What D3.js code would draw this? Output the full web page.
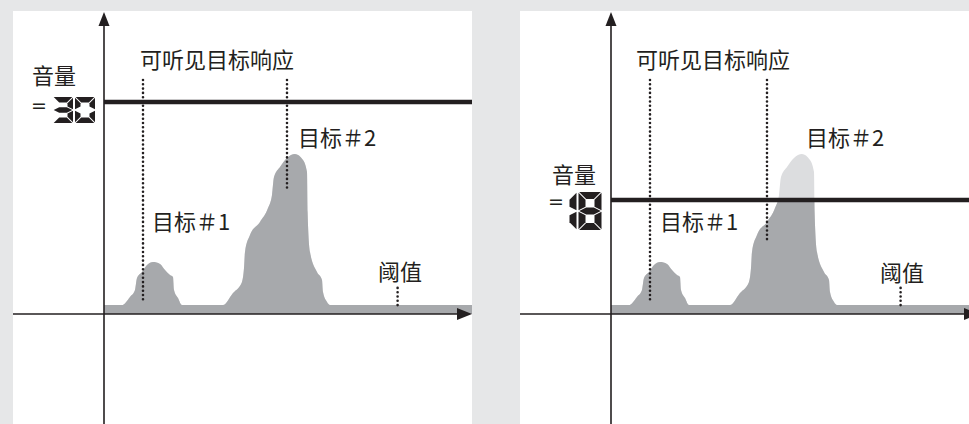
<!DOCTYPE html>
<html>
<head>
<meta charset="utf-8">
<script src="https://cdn.jsdelivr.net/npm/d3@7"></script>
<style>
  body { margin: 0; background: #e6e7e8; }
  svg { display: block; }
  .label { font-family: "Noto Sans CJK SC", sans-serif; font-size: 22px; fill: #231f20; }
  .equals { font-family: "DejaVu Sans", sans-serif; font-size: 19px; fill: #231f20; }
</style>
</head>
<body>
<div id="chart"></div>
<script>
// Data (x: 0..92 along the axis, y: 0..100 response level)
const responseX = [0, 3.5, 4.5, 6.5, 7.75, 8.25, 9.5, 10.75, 12.25, 14, 15.25, 16.5, 17.25, 17.5, 18.5, 19.5,
  20.5, 28.75, 29.75, 32.25, 34.5, 35, 35.25, 36.5, 39, 41, 42, 42.5, 44, 45.75, 47.75, 49.75, 50.75,
  50.9, 51.5, 53.25, 54.5, 54.75, 55.75, 56.5, 57.5, 92]
const responseY = [3, 3, 3, 5.7, 8, 12, 14, 16.3, 17.3, 16.7, 14.7, 13, 12.3, 8, 5.3, 3,
  3, 3, 3, 7, 10.7, 15.3, 20.7, 26.3, 30.7, 35.3, 39.7, 45.7, 49, 52, 53.3, 51.3, 47.3,
  34, 20.7, 14, 11.3, 7.3, 4, 3, 3, 3]
const volumeSetting = ["30", "18"]
const volumeLevel = [70.7, 38]
const audibleMarkX = [[9.75, 45.75], [9.75, 39]]
const audibleMarkBottom = [[4, 41.3], [4, 24]]
const thresholdMarkX = [73.4, 72.4]
const labelText = ["可听见目标响应", "目标＃1", "目标＃2", "阈值"]
const volumeText = "音量"

// Dimensions
const width = 969
const height = 424
const panelX = [13, 520]
const panelW = [459, 449]
const panelTop = 11
const originX = [104, 611]
const originY = 314
const axisTop = 12
const plotWidth = 368
const ink = "#231f20"
const darkGray = "#a7a9ac"
const lightGray = "#dcdddf"

// Annotation layout, in axis units
const labelX = [[9, 12, 48.5, 68.5], [6.25, 12.25, 48.75, 67.25]]
const labelY = [[82, 28, 56, 11.3], [82, 28, 56, 11]]
const markTop = 78
const thresholdMarkY = [8.7, 1.7]

// Volume display layout, in pixels
const volumeLayout = [
  {nameX: 32, nameY: 84, eqX: 31, eqY: 112, digitX: 53, digitY: 97, w: 20, h: 26, t: 5.5},
  {nameX: 552, nameY: 183, eqX: 548, eqY: 208, digitX: 568, digitY: 192, w: 23, h: 38, t: 7}
]

const svg = d3.select("#chart")
  .append("svg")
    .attr("width", width)
    .attr("height", height)

const responseData = responseX.map(function(x, i) { return {x: x, y: responseY[i]} })

const segmentsFor = {
  "0": "abcdef", "1": "bc", "2": "abdeg", "3": "abcdg", "4": "bcfg",
  "5": "acdfg", "6": "acdefg", "7": "abc", "8": "abcdefg", "9": "abcdfg"
}

// seven-segment polygons inside a cell (x, y, w, h), bar thickness t
function segmentPoints(x, y, w, h, t) {
  let g = 0.7
  let m = y + h / 2
  let r = x + w
  let b = y + h
  return {
    a: [[x + g, y], [r - g, y], [r - t - g, y + t], [x + t + g, y + t]],
    d: [[x + t + g, b - t], [r - t - g, b - t], [r - g, b], [x + g, b]],
    g: [[x + g, m], [x + t + g, m - t / 2], [r - t - g, m - t / 2], [r - g, m], [r - t - g, m + t / 2], [x + t + g, m + t / 2]],
    f: [[x, y + g], [x + t, y + t + g], [x + t, m - t / 2 - g], [x, m - g]],
    e: [[x, m + g], [x + t, m + t / 2 + g], [x + t, b - t - g], [x, b - g]],
    b: [[r, y + g], [r - t, y + t + g], [r - t, m - t / 2 - g], [r, m - g]],
    c: [[r, m + g], [r - t, m + t / 2 + g], [r - t, b - t - g], [r, b - g]]
  }
}

function drawDigits(g, str, lay) {
  let x = lay.digitX
  for (let c of str) {
    let w = c === "1" ? lay.t + 1.5 : lay.w
    let segs = segmentPoints(x, lay.digitY, w, lay.h, lay.t)
    g.selectAll(null)
      .data(segmentsFor[c].split(""))
      .enter().append("polygon")
      .attr("points", function(s) { return segs[s].map(function(p) { return p.join(",") }).join(" ") })
      .attr("fill", ink)
    x += w + 2
  }
}

function drawPanel(p) {
  let g = svg.append("g")
  let x0 = originX[p]

  g.append("rect")
    .attr("x", panelX[p])
    .attr("y", panelTop)
    .attr("width", panelW[p])
    .attr("height", height - panelTop)
    .attr("fill", "#ffffff")

  let x = d3.scaleLinear().domain([0, 92]).range([x0, x0 + plotWidth])
  let y = d3.scaleLinear().domain([0, 100]).range([originY, 14])

  let area = d3.area()
    .x(function(d) { return x(d.x) })
    .y0(y(0))
    .y1(function(d) { return y(d.y) })
    .curve(d3.curveMonotoneX)

  let clipId = "below-volume-" + p
  g.append("clipPath")
      .attr("id", clipId)
    .append("rect")
      .attr("x", x0)
      .attr("y", y(volumeLevel[p]))
      .attr("width", plotWidth)
      .attr("height", originY - y(volumeLevel[p]) + 2)

  g.append("path")
    .datum(responseData)
    .attr("d", area)
    .attr("fill", lightGray)

  g.append("path")
    .datum(responseData)
    .attr("d", area)
    .attr("fill", darkGray)
    .attr("clip-path", "url(#" + clipId + ")")

  // dotted markers
  let marks = audibleMarkX[p].map(function(mx, i) { return {x: mx, top: markTop, bottom: audibleMarkBottom[p][i]} })
  marks.push({x: thresholdMarkX[p], top: thresholdMarkY[0], bottom: thresholdMarkY[1]})
  g.selectAll(".mark")
    .data(marks)
    .enter().append("line")
    .attr("class", "mark")
    .attr("x1", function(d) { return x(d.x) })
    .attr("x2", function(d) { return x(d.x) })
    .attr("y1", function(d) { return y(d.top) })
    .attr("y2", function(d) { return y(d.bottom) })
    .attr("stroke", ink)
    .attr("stroke-width", 2.6)
    .attr("stroke-linecap", "round")
    .attr("stroke-dasharray", "0,4.3")

  // volume line
  g.append("line")
    .attr("x1", x0)
    .attr("x2", x0 + plotWidth)
    .attr("y1", y(volumeLevel[p]))
    .attr("y2", y(volumeLevel[p]))
    .attr("stroke", ink)
    .attr("stroke-width", 4.5)

  // axes
  g.append("line")
    .attr("x1", panelX[p])
    .attr("x2", x0 + plotWidth - 10)
    .attr("y1", originY)
    .attr("y2", originY)
    .attr("stroke", ink)
    .attr("stroke-width", 1.6)
  g.append("line")
    .attr("x1", x0)
    .attr("x2", x0)
    .attr("y1", axisTop + 8)
    .attr("y2", height)
    .attr("stroke", ink)
    .attr("stroke-width", 1.6)
  g.append("path")
    .attr("d", "M" + x0 + "," + axisTop + "L" + (x0 + 5.5) + "," + (axisTop + 14) + "L" + (x0 - 5.5) + "," + (axisTop + 14) + "Z")
    .attr("fill", ink)
  let xe = x0 + plotWidth
  g.append("path")
    .attr("d", "M" + xe + "," + originY + "L" + (xe - 15) + "," + (originY - 6) + "L" + (xe - 15) + "," + (originY + 6) + "Z")
    .attr("fill", ink)

  // labels
  g.selectAll(".label")
    .data(labelText)
    .enter().append("text")
    .attr("class", "label")
    .attr("x", function(d, i) { return x(labelX[p][i]) })
    .attr("y", function(d, i) { return y(labelY[p][i]) })
    .text(function(d) { return d })

  // volume display
  let lay = volumeLayout[p]
  g.append("text")
    .attr("class", "label")
    .attr("x", lay.nameX)
    .attr("y", lay.nameY)
    .text(volumeText)
  g.append("text")
    .attr("class", "equals")
    .attr("x", lay.eqX)
    .attr("y", lay.eqY)
    .text("=")
  drawDigits(g, volumeSetting[p], lay)
}

drawPanel(0)
drawPanel(1)
</script>
</body>
</html>
